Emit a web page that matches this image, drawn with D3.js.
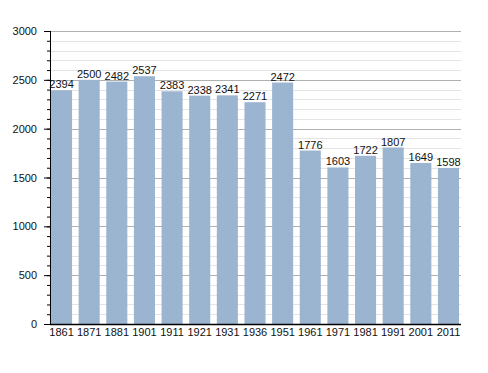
<!DOCTYPE html>
<html>
<head>
<meta charset="utf-8">
<script src="https://cdn.jsdelivr.net/npm/d3@7"></script>
<style>
  body { margin: 0; background: #fff; }
  text { font-family: "Liberation Sans", Arial, sans-serif; }
</style>
</head>
<body>
<div id="chart"></div>
<script>
// data
var years = ["1861", "1871", "1881", "1901", "1911", "1921", "1931", "1936", "1951", "1961", "1971", "1981", "1991", "2001", "2011"];
var population = [2394, 2500, 2482, 2537, 2383, 2338, 2341, 2271, 2472, 1776, 1603, 1722, 1807, 1649, 1598];
var majorTicks = [0, 500, 1000, 1500, 2000, 2500, 3000];

var svgWidth = 488;
var svgHeight = 373;
var margin = { top: 31, right: 27, bottom: 49, left: 50 };
var chartWidth = svgWidth - margin.left - margin.right;
var chartHeight = svgHeight - margin.top - margin.bottom;

var svg = d3.select("#chart")
  .append("svg")
  .attr("width", svgWidth)
  .attr("height", svgHeight);

var g = svg.append("g")
  .attr("transform", `translate(${margin.left}, ${margin.top})`);

var x = d3.scaleBand()
  .domain(years)
  .range([1, 409])
  .paddingInner(0.238)
  .paddingOuter(0);

var y = d3.scaleLinear()
  .domain([0, 3000])
  .range([chartHeight, 0]);

// minor grid every 100
var minor = d3.range(100, 3001, 100).filter(d => d % 500 != 0);
g.selectAll(".minor")
  .data(minor)
  .enter()
  .append("line")
  .attr("x1", 0)
  .attr("x2", chartWidth)
  .attr("y1", d => Math.round(y(d)) + 0.5)
  .attr("y2", d => Math.round(y(d)) + 0.5)
  .attr("stroke", "#e4e4e4");

g.selectAll(".major")
  .data(majorTicks.slice(1))
  .enter()
  .append("line")
  .attr("x1", 0)
  .attr("x2", chartWidth)
  .attr("y1", d => Math.round(y(d)) + 0.5)
  .attr("y2", d => Math.round(y(d)) + 0.5)
  .attr("stroke", "#b0b0b0");

// bars
g.selectAll("rect")
  .data(population)
  .enter()
  .append("rect")
  .attr("x", (d, i) => x(years[i]))
  .attr("y", d => y(d))
  .attr("width", x.bandwidth())
  .attr("height", d => chartHeight - y(d))
  .attr("fill", "#9bb4d0");

// value labels
g.selectAll(".val")
  .data(population)
  .enter()
  .append("text")
  .attr("x", (d, i) => x(years[i]) + x.bandwidth() / 2)
  .attr("y", d => y(d) - 2)
  .attr("text-anchor", "middle")
  .style("font-size", "11px")
  .attr("fill", "#111")
  .text(d => d);

// y axis with minor ticks
var yMinor = d3.axisLeft(y).tickValues(d3.range(0, 3001, 100)).tickSize(3).tickFormat("");
g.append("g").call(yMinor).call(s => s.select(".domain").remove());

var leftAxis = d3.axisLeft(y).tickValues(majorTicks).tickSize(6).tickPadding(7).tickFormat(d3.format("d"));
g.append("g")
  .call(leftAxis)
  .call(s => s.selectAll("text").style("font-size", "11px").attr("fill", "#111"))
  .call(s => s.select(".domain").attr("d", `M0.5,0V${chartHeight}`));

// x axis
var bottomAxis = d3.axisBottom(x).tickSize(0).tickPadding(4);
g.append("g")
  .attr("transform", `translate(0, ${chartHeight})`)
  .call(bottomAxis)
  .call(s => s.selectAll("text").style("font-size", "11px").attr("fill", "#111"))
  .call(s => s.select(".domain").attr("d", `M0,0.5H${chartWidth}`).attr("stroke-width", 1.5));
</script>
</body>
</html>
